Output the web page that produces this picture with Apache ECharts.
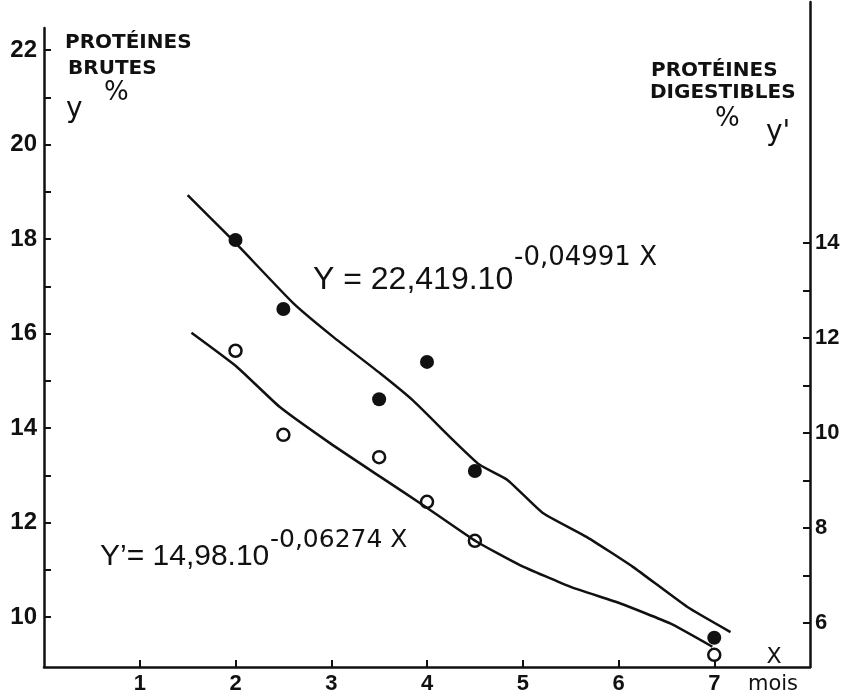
<!DOCTYPE html>
<html>
<head>
<meta charset="utf-8">
<script src="https://cdn.jsdelivr.net/npm/echarts@6/dist/echarts.min.js"></script>
<style>
  html, body { margin: 0; padding: 0; background: #fff; }
  #chart { width: 843px; height: 698px; }
</style>
</head>
<body>
<div id="chart"></div>
<script>
// mois de mesure
var mois = [2, 2.5, 3.5, 4, 4.5, 7];
// protéines brutes (y, axe gauche) - points pleins
var proteinesBrutes = [17.98, 16.52, 14.61, 15.40, 13.09, 9.56];
// protéines digestibles (y', axe droit) - points creux
var proteinesDigestibles = [11.73, 9.96, 9.49, 8.55, 7.73, 5.33];

// courbe ajustée Y
var courbeBrutesX = [1.50, 1.99, 2.60, 3.02, 3.51, 3.85, 4.27, 4.55, 4.84, 5.21, 5.67, 6.15, 6.72, 7.17];
var courbeBrutesY = [18.93, 17.94, 16.65, 15.93, 15.16, 14.59, 13.75, 13.22, 12.90, 12.20, 11.69, 11.06, 10.21, 9.68];
// courbe ajustée Y'
var courbeDigX = [1.54, 2.01, 2.46, 2.99, 3.51, 3.96, 4.52, 4.97, 5.50, 6.02, 6.54, 6.98];
var courbeDigY = [12.11, 11.40, 10.55, 9.78, 9.08, 8.48, 7.71, 7.22, 6.76, 6.41, 5.99, 5.50];

// graduations
var xLabels = [1, 2, 3, 4, 5, 6, 7];
var yTicks = [10, 11, 12, 13, 14, 15, 16, 17, 18, 19, 20, 21, 22];
var yLabels = [10, 12, 14, 16, 18, 20, 22];
var y2Ticks = [6, 7, 8, 9, 10, 11, 12, 13, 14];
var y2Labels = [6, 8, 10, 12, 14];

function zip(a, b) {
  return a.map(function (v, i) { return [v, b[i]]; });
}

var ink = '#111';
var chart = echarts.init(document.getElementById('chart'));

var option = {
  backgroundColor: '#fff',
  animation: false,
  grid: [
    { left: 44, right: 33, top: 28, bottom: 31 },
    { left: 44, right: 33, top: 2, bottom: 31 }
  ],
  xAxis: [{
    gridIndex: 0,
    type: 'value', min: 0, max: 8,
    splitLine: { show: false },
    axisLine: { onZero: false, lineStyle: { color: ink, width: 2.5 } },
    axisTick: { inside: true, length: 7, customValues: xLabels, lineStyle: { color: ink, width: 2 } },
    axisLabel: { customValues: xLabels, margin: 6, color: ink, fontFamily: 'Liberation Sans', fontWeight: 'bold', fontSize: 22 }
  }, {
    gridIndex: 1,
    type: 'value', min: 0, max: 8, show: false
  }],
  yAxis: [{
    gridIndex: 0,
    type: 'value', min: 8.94, max: 22.47,
    splitLine: { show: false },
    axisLine: { show: true, onZero: false, lineStyle: { color: ink, width: 2.5 } },
    axisTick: { show: true, inside: true, length: 7, customValues: yTicks, lineStyle: { color: ink, width: 2 } },
    axisLabel: { customValues: yLabels, margin: 7, padding: [0, 0, 12, 0], color: ink, fontFamily: 'Liberation Sans', fontWeight: 'bold', fontSize: 24 }
  }, {
    gridIndex: 1,
    type: 'value', position: 'right', min: 5.074, max: 19.07,
    splitLine: { show: false },
    axisLine: { show: true, onZero: false, lineStyle: { color: ink, width: 2.5 } },
    axisTick: { show: true, inside: true, length: 7, customValues: y2Ticks, lineStyle: { color: ink, width: 2 } },
    axisLabel: { customValues: y2Labels, margin: 5, padding: [0, 0, 12, 0], color: ink, fontFamily: 'Liberation Sans', fontWeight: 'bold', fontSize: 22 }
  }],
  series: [{
    name: 'Y',
    type: 'line',
    xAxisIndex: 0, yAxisIndex: 0,
    data: zip(courbeBrutesX, courbeBrutesY),
    smooth: 0.15,
    showSymbol: false,
    lineStyle: { color: ink, width: 2.5 }
  }, {
    name: 'protéines brutes',
    type: 'scatter',
    xAxisIndex: 0, yAxisIndex: 0,
    data: zip(mois, proteinesBrutes),
    symbolSize: 14,
    itemStyle: { color: ink, opacity: 1 }
  }, {
    name: "Y'",
    type: 'line',
    xAxisIndex: 1, yAxisIndex: 1,
    data: zip(courbeDigX, courbeDigY),
    smooth: 0.15,
    showSymbol: false,
    lineStyle: { color: ink, width: 2.5 }
  }, {
    name: 'protéines digestibles',
    type: 'scatter',
    xAxisIndex: 1, yAxisIndex: 1,
    data: zip(mois, proteinesDigestibles),
    symbolSize: 12,
    itemStyle: { color: '#fff', borderColor: ink, borderWidth: 2.5, opacity: 1 }
  }],
  graphic: [
    // titres des axes
    { type: 'text', x: 65, y: 43, style: { text: 'PROTÉINES', font: 'bold 20px "DejaVu Sans"', fill: ink, textVerticalAlign: 'middle' } },
    { type: 'text', x: 68, y: 69, style: { text: 'BRUTES', font: 'bold 20px "DejaVu Sans"', fill: ink, textVerticalAlign: 'middle' } },
    { type: 'text', x: 104, y: 93, style: { text: '%', font: '26px "DejaVu Sans"', fill: ink, textVerticalAlign: 'middle' } },
    { type: 'text', x: 66, y: 110, style: { text: 'y', font: '28px "DejaVu Sans"', fill: ink, textVerticalAlign: 'middle' } },
    { type: 'text', x: 651, y: 71, style: { text: 'PROTÉINES', font: 'bold 20px "DejaVu Sans"', fill: ink, textVerticalAlign: 'middle' } },
    { type: 'text', x: 650, y: 93, style: { text: 'DIGESTIBLES', font: 'bold 20px "DejaVu Sans"', fill: ink, textVerticalAlign: 'middle' } },
    { type: 'text', x: 715, y: 119, style: { text: '%', font: '26px "DejaVu Sans"', fill: ink, textVerticalAlign: 'middle' } },
    { type: 'text', x: 766, y: 133, style: { text: "y'", font: '28px "DejaVu Sans"', fill: ink, textVerticalAlign: 'middle' } },
    // équations
    { type: 'text', x: 313, y: 280, style: { text: 'Y = 22,419.10', font: '32px "Liberation Sans"', fill: ink, textVerticalAlign: 'middle' } },
    { type: 'text', x: 514, y: 258, style: { text: '-0,04991 X', font: '26px "DejaVu Sans"', fill: ink, textVerticalAlign: 'middle' } },
    { type: 'text', x: 100, y: 557, style: { text: 'Y’= 14,98.10', font: '30px "Liberation Sans"', fill: ink, textVerticalAlign: 'middle' } },
    { type: 'text', x: 270, y: 540, style: { text: '-0,06274 X', font: '25px "DejaVu Sans"', fill: ink, textVerticalAlign: 'middle' } },
    // axe des x
    { type: 'text', x: 774, y: 657, style: { text: 'X', font: '22px "DejaVu Sans"', fill: ink, textAlign: 'center', textVerticalAlign: 'middle' } },
    { type: 'text', x: 773, y: 685, style: { text: 'mois', font: '21px "DejaVu Sans"', fill: ink, textAlign: 'center', textVerticalAlign: 'middle' } }
  ]
};

chart.setOption(option);
</script>
</body>
</html>
